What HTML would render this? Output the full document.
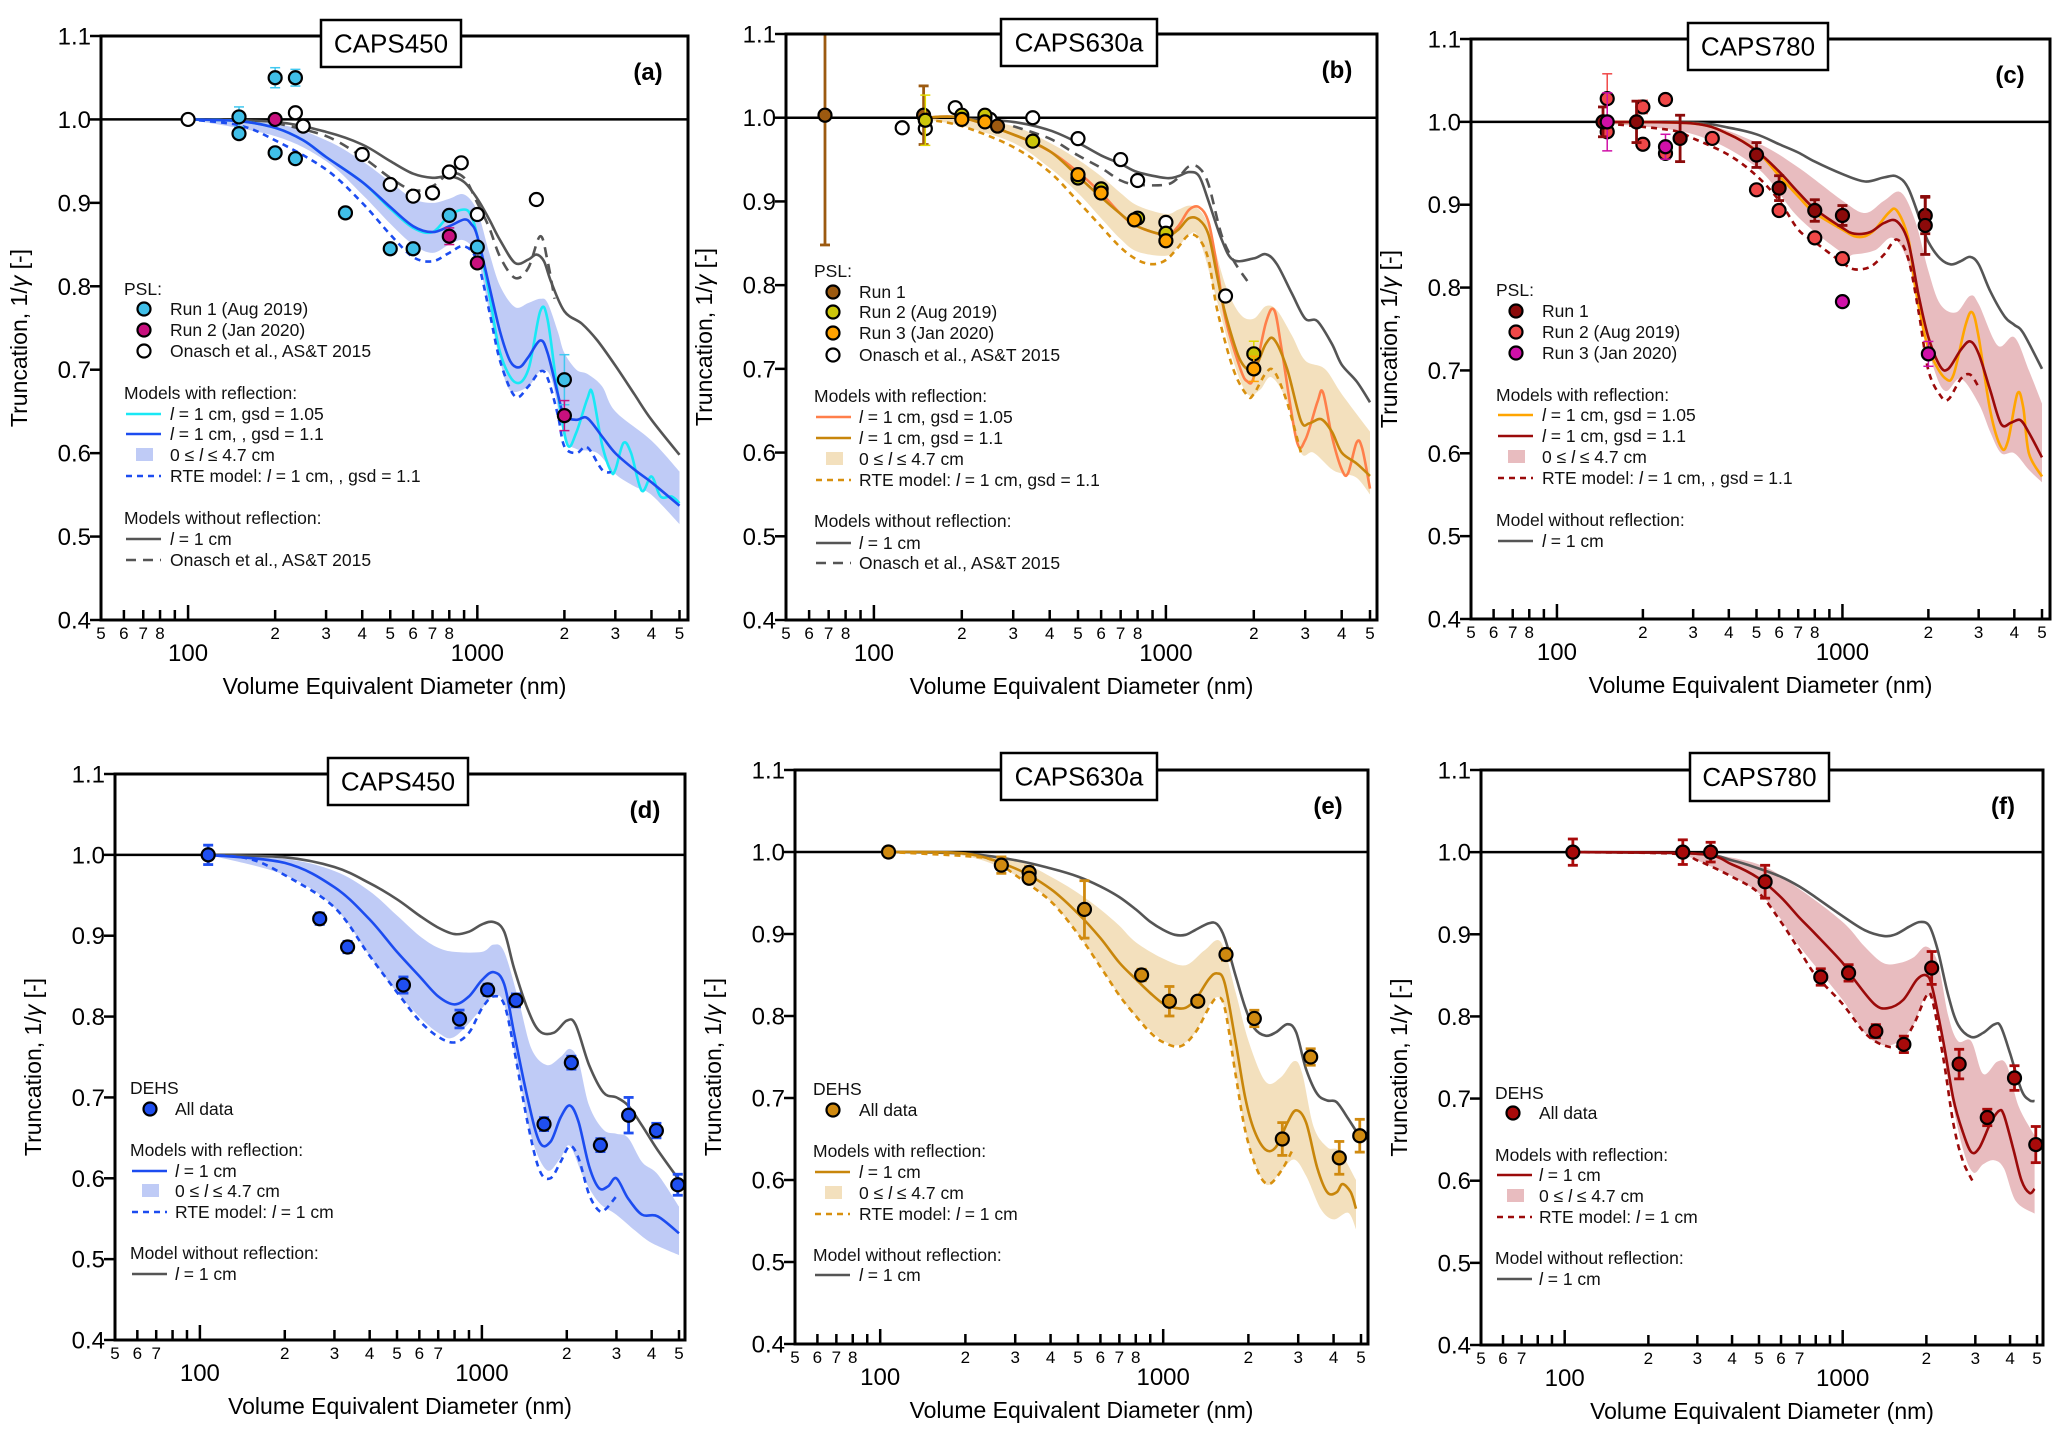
<!DOCTYPE html>
<html><head><meta charset="utf-8"><style>
html,body{margin:0;padding:0;background:#fff;}
svg{display:block;font-family:"Liberation Sans",Arial,sans-serif;}
</style></head><body>
<svg id="fig" width="2067" height="1448" viewBox="0 0 2067 1448" xmlns="http://www.w3.org/2000/svg">
<rect x="0" y="0" width="2067" height="1448" fill="#fff"/>
</svg>
<script>
// ---------- Panel (a) CAPS450 PSL ----------
const a_nr_x=[100,200,300,400,500,600,700,800,900,1000,1100,1200,1350,1500,1600,1700,1800,2000,2300,2600,3000,3500,4000,5000];
const a_nr_y=[1.0,0.997,0.985,0.97,0.95,0.935,0.93,0.932,0.925,0.905,0.88,0.855,0.828,0.832,0.838,0.83,0.805,0.77,0.755,0.735,0.705,0.67,0.64,0.598];
const a_on_x=[200,300,400,500,600,700,800,900,1000,1100,1200,1350,1500,1650,1750,1850];
const a_on_y=[0.996,0.98,0.955,0.93,0.915,0.92,0.935,0.93,0.9,0.87,0.835,0.81,0.822,0.86,0.83,0.785];
const a_g11_x=[100,150,200,250,300,400,500,600,700,800,900,950,1000,1100,1200,1300,1400,1500,1650,1750,1900,2000,2200,2400,2700,3000,3500,4000,5000];
const a_g11_y=[1.0,0.998,0.99,0.975,0.955,0.925,0.895,0.872,0.865,0.872,0.88,0.875,0.86,0.8,0.745,0.71,0.703,0.715,0.735,0.72,0.67,0.645,0.64,0.642,0.62,0.6,0.58,0.565,0.537];
const a_g105_x=[100,150,200,250,300,400,500,600,700,800,900,950,1000,1100,1200,1350,1500,1650,1750,1900,2050,2200,2400,2500,2700,2900,3000,3200,3400,3700,4000,4300,4700,5000];
const a_g105_y=[1.0,0.998,0.99,0.975,0.955,0.925,0.893,0.87,0.865,0.885,0.892,0.885,0.86,0.79,0.72,0.685,0.7,0.77,0.76,0.67,0.61,0.625,0.665,0.672,0.61,0.578,0.58,0.612,0.6,0.555,0.572,0.548,0.548,0.54];
const a_rte_x=[100,150,200,300,400,500,600,700,800,900,1000,1100,1200,1350,1500,1650,1750,1900,2000,2200,2400,2700,2900];
const a_rte_y=[1.0,0.993,0.975,0.94,0.9,0.862,0.835,0.83,0.84,0.848,0.83,0.77,0.71,0.668,0.68,0.698,0.69,0.645,0.608,0.6,0.607,0.58,0.577];
const a_hi_x=[100,200,300,400,500,600,700,800,900,1000,1100,1200,1350,1500,1650,1750,1900,2000,2200,2400,2700,3000,4000,5000];
const a_hi_y=[1.0,0.995,0.975,0.95,0.925,0.905,0.9,0.905,0.91,0.89,0.84,0.8,0.775,0.78,0.785,0.78,0.745,0.72,0.7,0.695,0.68,0.65,0.615,0.578];
const a_lo_x=[100,200,300,400,500,600,700,800,900,1000,1100,1200,1300,1500,1650,1800,2000,2200,2600,3000,3500,4000,5000];
const a_lo_y=[1.0,0.98,0.95,0.91,0.875,0.85,0.84,0.85,0.855,0.835,0.77,0.71,0.675,0.68,0.698,0.69,0.62,0.605,0.6,0.575,0.56,0.55,0.515];
const a_r1_x=[150,150,200,200,235,235,350,500,600,800,1000,2000];
const a_r1_y=[1.003,0.983,1.05,0.96,1.05,0.953,0.888,0.845,0.845,0.885,0.847,0.688];
const a_r1_e=[0.012,0,0.012,0,0.01,0,0,0,0,0,0,0.03];
const a_r2_x=[200,800,1000,2000];
const a_r2_y=[1.0,0.86,0.828,0.645];
const a_r2_e=[0.005,0.01,0.005,0.018];
const a_ons_x=[100,235,250,400,500,600,700,800,880,1000,1600];
const a_ons_y=[1.0,1.008,0.992,0.958,0.922,0.908,0.912,0.937,0.948,0.886,0.904];

// ---------- Panel (b) CAPS630a PSL ----------
const b_nr_x=[200,300,400,500,600,700,800,1000,1100,1200,1300,1400,1550,1700,2000,2200,2400,2700,3000,3300,3700,4000,4500,5000];
const b_nr_y=[0.999,0.995,0.985,0.97,0.955,0.945,0.935,0.928,0.93,0.935,0.93,0.9,0.855,0.83,0.832,0.837,0.825,0.79,0.76,0.757,0.73,0.705,0.685,0.66];
const b_on_x=[300,400,500,600,700,800,1000,1100,1200,1300,1400,1550,1700,1900];
const b_on_y=[0.99,0.975,0.955,0.94,0.925,0.92,0.92,0.928,0.942,0.94,0.92,0.86,0.83,0.805];
const b_g105_x=[150,200,300,400,500,600,700,800,1000,1100,1200,1300,1400,1500,1600,1800,1900,2000,2200,2350,2500,2800,3000,3300,3450,3700,4000,4200,4500,4700,5000];
const b_g105_y=[1.0,1.0,0.98,0.96,0.935,0.91,0.885,0.87,0.86,0.87,0.89,0.893,0.875,0.82,0.76,0.7,0.685,0.69,0.755,0.77,0.72,0.615,0.615,0.66,0.672,0.62,0.58,0.575,0.612,0.605,0.557];
const b_g11_x=[150,200,300,400,500,600,700,800,1000,1100,1200,1300,1400,1500,1600,1800,2000,2200,2350,2600,2900,3100,3400,3700,4000,4500,5000];
const b_g11_y=[1.0,1.0,0.98,0.96,0.93,0.905,0.885,0.87,0.86,0.866,0.88,0.878,0.86,0.81,0.765,0.71,0.7,0.73,0.735,0.7,0.638,0.635,0.64,0.625,0.6,0.587,0.572];
const b_rte_x=[150,200,300,400,500,600,700,800,900,1000,1100,1200,1300,1400,1500,1700,1900,2000,2200,2350,2600,2900];
const b_rte_y=[0.998,0.99,0.965,0.935,0.9,0.87,0.845,0.83,0.825,0.83,0.845,0.86,0.855,0.83,0.77,0.7,0.668,0.67,0.695,0.697,0.66,0.6];
const b_hi_x=[150,200,300,400,500,600,700,800,1000,1100,1200,1300,1400,1600,1800,2000,2200,2400,2700,3000,3500,4000,5000];
const b_hi_y=[1.0,1.0,0.99,0.97,0.95,0.93,0.91,0.895,0.885,0.89,0.895,0.89,0.87,0.8,0.765,0.76,0.775,0.77,0.74,0.71,0.7,0.67,0.625];
const b_lo_x=[150,200,300,400,500,600,700,800,1000,1100,1200,1300,1500,1700,1900,2100,2300,2600,2900,3200,3700,4000,4500,5000];
const b_lo_y=[0.998,0.99,0.97,0.94,0.91,0.88,0.855,0.84,0.835,0.845,0.86,0.855,0.78,0.71,0.67,0.675,0.69,0.66,0.6,0.6,0.58,0.575,0.57,0.55];
const b_r1_x=[68,148,240,265];
const b_r1_y=[1.003,1.003,1.0,0.99];
const b_r1_e=[0.155,0.035,0,0];
const b_r2_x=[150,200,240,350,500,600,800,1000,2000];
const b_r2_y=[0.997,1.003,1.003,0.972,0.928,0.915,0.88,0.862,0.718];
const b_r2_e=[0.03,0,0,0,0,0,0,0,0.015];
const b_r3_x=[200,240,500,600,780,1000,2000];
const b_r3_y=[0.998,0.995,0.932,0.91,0.878,0.853,0.7];
const b_r3_e=[0,0,0,0,0,0,0.015];
const b_ons_x=[125,150,190,250,350,500,700,800,1000,1600];
const b_ons_y=[0.988,0.987,1.012,0.998,1.0,0.975,0.95,0.925,0.875,0.787];

// ---------- Panel (c) CAPS780 PSL ----------
const c_nr_x=[150,300,400,500,600,700,800,1000,1200,1400,1550,1700,1900,2000,2200,2400,2600,2800,3000,3300,3700,4000,4300,5000];
const c_nr_y=[1.0,0.999,0.993,0.985,0.973,0.963,0.952,0.937,0.928,0.933,0.934,0.92,0.875,0.855,0.835,0.828,0.832,0.837,0.828,0.795,0.765,0.755,0.745,0.702];
const c_g105_x=[150,300,400,500,600,700,800,1000,1100,1200,1300,1450,1550,1700,1800,1950,2100,2300,2450,2700,2850,3000,3300,3600,3800,4100,4300,4500,5000];
const c_g105_y=[1.0,0.998,0.985,0.965,0.935,0.91,0.89,0.87,0.862,0.862,0.87,0.89,0.893,0.86,0.8,0.74,0.71,0.69,0.695,0.755,0.77,0.74,0.65,0.607,0.615,0.672,0.655,0.6,0.572];
const c_g11_x=[150,300,400,500,600,700,800,1000,1100,1250,1400,1550,1700,1850,2000,2200,2350,2600,2800,3000,3300,3600,3900,4200,4500,5000];
const c_g11_y=[1.0,0.998,0.985,0.965,0.94,0.915,0.895,0.872,0.865,0.867,0.878,0.88,0.855,0.79,0.74,0.705,0.702,0.725,0.735,0.72,0.675,0.635,0.637,0.64,0.625,0.595];
const c_rte_x=[150,250,300,400,500,600,700,800,1000,1100,1250,1400,1550,1700,1850,2000,2200,2350,2600,2800,3000];
const c_rte_y=[0.998,0.99,0.98,0.96,0.935,0.905,0.87,0.855,0.83,0.822,0.825,0.84,0.858,0.835,0.77,0.7,0.67,0.665,0.69,0.695,0.68];
const c_hi_x=[150,300,500,700,1000,1200,1400,1600,1800,2000,2200,2500,2800,3000,3500,4000,4500,5000];
const c_hi_y=[1.0,1.0,0.975,0.945,0.905,0.89,0.905,0.915,0.88,0.82,0.78,0.77,0.79,0.78,0.73,0.74,0.7,0.66];
const c_lo_x=[150,300,500,700,1000,1100,1300,1500,1700,1900,2100,2300,2600,3000,3300,3600,4000,4500,5000];
const c_lo_y=[0.998,0.985,0.945,0.885,0.842,0.84,0.845,0.86,0.83,0.76,0.7,0.675,0.69,0.66,0.625,0.6,0.6,0.58,0.565];
const c_r1_x=[145,190,270,500,600,800,1000,1950,1950];
const c_r1_y=[1.0,1.0,0.98,0.96,0.92,0.893,0.887,0.887,0.875];
const c_r1_e=[0.018,0.025,0.028,0.015,0.015,0.013,0.012,0.022,0.035];
const c_r2_x=[150,150,200,200,240,240,350,500,600,800,1000];
const c_r2_y=[1.028,0.988,1.018,0.973,1.027,0.962,0.98,0.918,0.893,0.86,0.835];
const c_r2_e=[0.03,0,0.008,0,0.005,0,0,0,0,0,0];
const c_r3_x=[150,240,1000,2000];
const c_r3_y=[1.0,0.97,0.783,0.72];
const c_r3_e=[0.035,0.015,0,0.015];

// ---------- Panel (d) CAPS450 DEHS ----------
const d_nr_x=[107,200,300,400,500,600,700,800,900,1000,1100,1200,1300,1450,1600,1800,2000,2150,2400,2700,3000,3300,3700,4200,5000];
const d_nr_y=[1.0,0.997,0.985,0.965,0.945,0.925,0.91,0.902,0.905,0.914,0.917,0.905,0.86,0.81,0.782,0.78,0.795,0.79,0.74,0.706,0.7,0.69,0.665,0.635,0.598];
const d_g_x=[107,200,300,400,500,600,700,800,900,1000,1100,1200,1300,1450,1600,1750,1900,2050,2200,2400,2600,2800,3000,3300,3700,4200,5000];
const d_g_y=[1.0,0.99,0.96,0.92,0.88,0.85,0.825,0.815,0.825,0.845,0.855,0.84,0.78,0.7,0.645,0.645,0.675,0.69,0.67,0.615,0.588,0.59,0.6,0.575,0.555,0.553,0.532];
const d_rte_x=[107,150,200,300,400,500,600,700,800,900,1000,1100,1200,1300,1450,1600,1750,1900,2050,2200,2400,2600,2750,3000];
const d_rte_y=[1.0,0.995,0.975,0.935,0.875,0.83,0.795,0.775,0.768,0.78,0.81,0.825,0.815,0.76,0.67,0.61,0.6,0.62,0.64,0.625,0.58,0.56,0.562,0.578];
const d_hi_x=[107,200,300,400,500,600,700,800,1000,1100,1200,1350,1500,1700,1900,2050,2200,2400,2700,3000,3300,3700,4200,5000];
const d_hi_y=[1.0,0.995,0.98,0.955,0.925,0.9,0.885,0.88,0.88,0.889,0.88,0.82,0.76,0.74,0.75,0.76,0.745,0.69,0.66,0.655,0.65,0.62,0.605,0.565];
const d_lo_x=[107,200,300,400,500,600,700,800,1000,1100,1200,1350,1500,1700,1900,2050,2300,2600,3000,3500,4000,5000];
const d_lo_y=[1.0,0.975,0.935,0.875,0.83,0.8,0.78,0.775,0.81,0.825,0.815,0.73,0.65,0.61,0.625,0.64,0.6,0.57,0.555,0.535,0.52,0.505];
const d_pt_x=[107,266,334,527,833,1048,1321,1661,2076,2632,3314,4157,4950];
const d_pt_y=[1.0,0.921,0.886,0.839,0.797,0.833,0.82,0.667,0.743,0.641,0.678,0.659,0.592];
const d_pt_e=[0.012,0.007,0.007,0.01,0.011,0.007,0.008,0.008,0.008,0.008,0.022,0.009,0.013];

// ---------- Panel (e) CAPS630a DEHS ----------
const e_nr_x=[107,200,300,400,500,600,700,800,900,1000,1100,1200,1300,1450,1550,1650,1800,1950,2100,2300,2500,2750,2950,3200,3500,3800,4100,4500,4900];
const e_nr_y=[1.0,0.998,0.99,0.98,0.97,0.958,0.945,0.93,0.915,0.905,0.899,0.899,0.905,0.913,0.912,0.895,0.85,0.81,0.785,0.776,0.78,0.79,0.78,0.735,0.705,0.697,0.695,0.675,0.655];
const e_g_x=[107,200,300,400,500,600,700,800,900,1000,1100,1200,1300,1450,1550,1650,1800,1950,2100,2300,2500,2750,2950,3200,3500,3800,4100,4300,4600,4800];
const e_g_y=[1.0,0.998,0.98,0.955,0.925,0.895,0.865,0.845,0.828,0.815,0.81,0.81,0.82,0.845,0.852,0.84,0.77,0.7,0.66,0.637,0.64,0.67,0.685,0.67,0.615,0.585,0.585,0.595,0.585,0.565];
const e_rte_x=[107,200,250,300,400,500,600,700,800,900,1000,1150,1300,1450,1550,1650,1800,1950,2150,2350,2600,2850];
const e_rte_y=[1.0,0.995,0.99,0.972,0.94,0.9,0.86,0.825,0.8,0.78,0.768,0.763,0.78,0.81,0.822,0.81,0.73,0.66,0.612,0.595,0.61,0.635];
const e_hi_x=[107,200,300,400,500,600,700,800,1000,1200,1400,1600,1800,2000,2300,2600,2900,3100,3400,3800,4200,4800];
const e_hi_y=[1.0,0.998,0.99,0.97,0.95,0.93,0.91,0.89,0.87,0.862,0.88,0.89,0.83,0.77,0.72,0.725,0.745,0.73,0.665,0.64,0.635,0.6];
const e_lo_x=[107,200,300,400,500,600,700,800,1000,1150,1300,1500,1650,1800,2000,2300,2600,2900,3200,3600,4000,4500,4800];
const e_lo_y=[1.0,0.995,0.972,0.94,0.9,0.86,0.825,0.8,0.77,0.765,0.78,0.82,0.81,0.73,0.645,0.595,0.61,0.625,0.605,0.565,0.552,0.56,0.54];
const e_pt_x=[107,268,336,336,527,839,1052,1325,1667,2099,2636,3320,4190,4950];
const e_pt_y=[1.0,0.984,0.975,0.968,0.93,0.85,0.818,0.818,0.875,0.797,0.65,0.75,0.627,0.654];
const e_pt_e=[0.006,0.01,0.007,0,0.035,0.007,0.018,0.005,0.007,0.01,0.02,0.01,0.02,0.02];

// ---------- Panel (f) CAPS780 DEHS ----------
const f_nr_x=[107,300,400,500,600,700,800,1000,1200,1400,1550,1750,1900,2050,2200,2400,2600,2900,3200,3500,3700,4000,4400,4700,4900];
const f_nr_y=[1.0,0.998,0.99,0.98,0.97,0.958,0.945,0.922,0.905,0.898,0.9,0.91,0.915,0.91,0.88,0.825,0.79,0.775,0.78,0.79,0.788,0.755,0.71,0.698,0.697];
const f_g_x=[107,300,400,500,600,700,800,1000,1100,1300,1450,1650,1850,2000,2100,2300,2500,2700,2900,3100,3400,3650,3800,4100,4400,4700,4900];
const f_g_y=[1.0,0.998,0.985,0.968,0.945,0.92,0.9,0.865,0.845,0.815,0.81,0.82,0.845,0.85,0.835,0.77,0.7,0.66,0.635,0.64,0.67,0.685,0.68,0.64,0.6,0.585,0.59];
const f_rte_x=[107,250,300,400,500,600,700,800,1000,1200,1400,1600,1800,2000,2100,2300,2500,2700,2950];
const f_rte_y=[1.0,0.998,0.99,0.97,0.95,0.915,0.88,0.85,0.815,0.78,0.765,0.765,0.79,0.825,0.82,0.75,0.67,0.625,0.598];
const f_hi_x=[250,300,500,700,1000,1200,1400,1600,1800,2000,2200,2400,2600,2900,3200,3600,3900,4300,4900];
const f_hi_y=[1.0,1.0,0.985,0.955,0.915,0.885,0.865,0.865,0.872,0.885,0.865,0.8,0.77,0.77,0.73,0.745,0.74,0.69,0.655];
const f_lo_x=[250,300,500,700,1000,1200,1400,1600,1800,2000,2200,2400,2700,2950,3200,3500,3800,4200,4900];
const f_lo_y=[0.998,0.99,0.95,0.885,0.82,0.78,0.765,0.77,0.79,0.825,0.8,0.72,0.64,0.61,0.62,0.625,0.615,0.575,0.56];
const f_pt_x=[107,266,335,526,834,1050,1316,1660,2090,2624,3312,4150,4950];
const f_pt_y=[1.0,1.0,1.0,0.964,0.848,0.853,0.782,0.766,0.859,0.742,0.677,0.725,0.644];
const f_pt_e=[0.016,0.015,0.012,0.02,0.01,0.01,0.008,0.01,0.02,0.018,0.01,0.015,0.022];

const yTicks=[0.4,0.5,0.6,0.7,0.8,0.9,1.0,1.1];
const yTickLabels=["0.4","0.5","0.6","0.7","0.8","0.9","1.0","1.1"];

const NS="http://www.w3.org/2000/svg";
const svg=document.getElementById('fig');
function mk(tag,attrs,parent){const e=document.createElementNS(NS,tag);for(const k in attrs)e.setAttribute(k,attrs[k]);(parent||svg).appendChild(e);return e;}

function makeAxes(g){
  const dec=(g.x5k-g.L)/2;
  g.sx=x=>g.L+(Math.log10(x)-Math.log10(50))*dec;
  g.sy=y=>g.B-(y-0.4)/0.7*(g.B-g.T);
  g.dec=dec;
}
function smoothPath(pts){
  let d='M'+pts[0][0].toFixed(1)+','+pts[0][1].toFixed(1);
  for(let i=0;i<pts.length-1;i++){
    const p0=pts[i-1]||pts[i],p1=pts[i],p2=pts[i+1],p3=pts[i+2]||p2;
    const c1=[p1[0]+(p2[0]-p0[0])/6,p1[1]+(p2[1]-p0[1])/6];
    const c2=[p2[0]-(p3[0]-p1[0])/6,p2[1]-(p3[1]-p1[1])/6];
    d+=' C'+c1[0].toFixed(1)+','+c1[1].toFixed(1)+' '+c2[0].toFixed(1)+','+c2[1].toFixed(1)+' '+p2[0].toFixed(1)+','+p2[1].toFixed(1);
  }
  return d;
}
function linePts(g,xs,ys){return xs.map((x,i)=>[g.sx(x),g.sy(ys[i])]);}

function rich(el,txt){
  const parts=txt.split('{l}');
  parts.forEach((p,i)=>{
    if(p){const t=mk('tspan',{},el);t.textContent=p;}
    if(i<parts.length-1){const t=mk('tspan',{'font-style':'italic'},el);t.textContent='l';}
  });
}

function drawPanel(key,g,cfg){
  makeAxes(g);
  const grp=mk('g',{});
  
  
  const clipId='clip-'+key;
  const cp=mk('clipPath',{id:clipId},grp);
  mk('rect',{x:g.L,y:g.T,width:g.R-g.L,height:g.B-g.T},cp);
  const plot=mk('g',{'clip-path':'url(#'+clipId+')'},grp);
  const hi=linePts(g,cfg.band.hx,cfg.band.hy);
  const lo=linePts(g,cfg.band.lx,cfg.band.ly).reverse();
  const bd=smoothPath(hi)+' L'+smoothPath(lo).slice(1)+' Z';
  const band=mk('path',{d:bd,fill:cfg.band.color,stroke:'none'},plot);
  
  
  const ul=mk('line',{x1:g.L,x2:g.R,y1:g.sy(1.0),y2:g.sy(1.0),stroke:'#000','stroke-width':2.5},plot);
  
  
  cfg.lines.forEach(s=>{
    const p=mk('path',{d:smoothPath(linePts(g,s.x,s.y)),fill:'none',stroke:s.color,'stroke-width':s.w||2.6,'stroke-dasharray':s.dash||'none','stroke-linejoin':'round'},plot);
    
    
  });
  cfg.pts.forEach(s=>{
    const sg=mk('g',{},grp);
    
    
    s.x.forEach((x,i)=>{
      const cx=g.sx(x),cy=g.sy(s.y[i]);
      const e=s.e?s.e[i]:0;
      if(e>0){
        const y1=g.sy(Math.min(1.1,s.y[i]+e)),y2=g.sy(s.y[i]-e);
        const ec=s.ecolor||s.fill;
        const ew=s.ew||2.2;
        mk('line',{x1:cx,x2:cx,y1:y1,y2:y2,stroke:ec,'stroke-width':ew},sg);
        mk('line',{x1:cx-5,x2:cx+5,y1:y1,y2:y1,stroke:ec,'stroke-width':ew},sg);
        mk('line',{x1:cx-5,x2:cx+5,y1:y2,y2:y2,stroke:ec,'stroke-width':ew},sg);
      }
      const c=mk('circle',{cx:cx,cy:cy,r:s.r||6.5,fill:s.open?'#fff':s.fill,stroke:'#000','stroke-width':2.2},sg);
      
      
    });
  });
  const fr=mk('rect',{x:g.L,y:g.T,width:g.R-g.L,height:g.B-g.T,fill:'none',stroke:'#000','stroke-width':3},grp);
  
  
  const yax=mk('g',{},grp);
  
  
  yTicks.forEach((v,i)=>{
    const y=g.sy(v);
    mk('line',{x1:g.L-11,x2:g.L,y1:y,y2:y,stroke:'#000','stroke-width':2.5},yax);
    const t=mk('text',{x:g.L-10,y:y+8.5,'font-size':24,'text-anchor':'end',fill:'#000'},yax);
    t.textContent=yTickLabels[i];
  });
  const xax=mk('g',{},grp);
  
  
  const decs=[10,100,1000];
  decs.forEach((base,di)=>{
    for(let m=1;m<=9;m++){
      const v=base*m;
      if(v<50||v>5000)continue;
      const x=g.sx(v);
      const major=(m===1);
      mk('line',{x1:x,x2:x,y1:g.B,y2:g.B-(major?15:10),stroke:'#000','stroke-width':2.5},xax);
      if(!major && cfg.minorLabels[di].includes(m)){
        const t=mk('text',{x:x,y:g.B+19,'font-size':17,'text-anchor':'middle',fill:'#000'},xax);
        t.textContent=String(m);
      }
    }
  });
  ['100','1000'].forEach((lab,i)=>{
    const t=mk('text',{x:g.sx(i?1000:100),y:g.B+41,'font-size':24,'text-anchor':'middle',fill:'#000'},xax);
    t.textContent=lab;
  });
  const xt=mk('text',{x:(g.L+g.R)/2,y:g.B+74,'font-size':23,'text-anchor':'middle',fill:'#000'},grp);
  xt.textContent='Volume Equivalent Diameter (nm)';
  
  
  const ycx=g.L-74,ycy=(g.T+g.B)/2+10;
  const yt=mk('text',{x:ycx,y:ycy,'font-size':23,'text-anchor':'middle',fill:'#000',transform:'rotate(-90 '+ycx+' '+ycy+')'},grp);
  
  
  const t1=mk('tspan',{},yt);t1.textContent='Truncation, 1/';
  const t2=mk('tspan',{'font-style':'italic'},yt);t2.textContent='γ';
  const t3=mk('tspan',{},yt);t3.textContent=' [-]';
  const tb=cfg.tbox;
  const tg=mk('g',{},grp);
  
  
  mk('rect',{x:tb[0],y:tb[1],width:tb[2]-tb[0],height:tb[3]-tb[1],fill:'#fff',stroke:'#000','stroke-width':2.5},tg);
  const tt=mk('text',{x:(tb[0]+tb[2])/2,y:(tb[1]+tb[3])/2+9,'font-size':26,'text-anchor':'middle',fill:'#000'},tg);
  tt.textContent=cfg.title;
  const pl=mk('text',{x:g.R-40,y:g.T+44,'font-size':24,'font-weight':'bold','text-anchor':'middle',fill:'#000'},grp);
  pl.textContent=cfg.label;
  
  
  const lg=mk('g',{},grp);
  
  
  const L=cfg.legend;
  L.items.forEach(it=>{
    const y=it[2];
    const ent=mk('g',{},lg);
    
    
    const type=it[0];
    if(type==='h'){
      const t=mk('text',{x:L.hx,y:y+6,'font-size':17.5,fill:'#111'},ent);rich(t,it[1]);return;
    }
    if(type==='m'){
      mk('circle',{cx:L.mx,cy:y,r:6.5,fill:it[3],stroke:'#000','stroke-width':2.2},ent);
    } else if(type==='o'){
      mk('circle',{cx:L.mx,cy:y,r:6.5,fill:'#fff',stroke:'#000','stroke-width':2.2},ent);
    } else if(type==='l'){
      mk('line',{x1:L.hx+2,x2:L.hx+37,y1:y,y2:y,stroke:it[3],'stroke-width':2.6,'stroke-dasharray':it[4]||'none'},ent);
    } else if(type==='b'){
      mk('rect',{x:L.hx+12,y:y-7,width:17,height:13,fill:it[3]},ent);
    }
    const t=mk('text',{x:L.tx,y:y+6,'font-size':17.5,fill:'#111'},ent);rich(t,it[1]);
  });
}

const gray='#555';
const minorABC=[[5,6,7,8],[2,3,4,5,6,7,8],[2,3,4,5]];

drawPanel('a',{L:101,R:688,T:36,B:620,x5k:679.5},{
  title:'CAPS450',label:'(a)',tbox:[321,20,461,67],minorLabels:minorABC,
  band:{hx:a_hi_x,hy:a_hi_y,lx:a_lo_x,ly:a_lo_y,color:'#bfcbf6'},
  lines:[
    {name:'no-reflection-line',x:a_nr_x,y:a_nr_y,color:gray},
    {name:'onasch-model-line',x:a_on_x,y:a_on_y,color:gray,dash:'10 7'},
    {name:'gsd-1.05-line',x:a_g105_x,y:a_g105_y,color:'#19e8f5'},
    {name:'gsd-1.1-line',x:a_g11_x,y:a_g11_y,color:'#1c4cf0'},
    {name:'rte-model-line',x:a_rte_x,y:a_rte_y,color:'#1c4cf0',dash:'6 5'}],
  pts:[
    {name:'onasch-data',x:a_ons_x,y:a_ons_y,open:true},
    {name:'run1-data',x:a_r1_x,y:a_r1_y,e:a_r1_e,fill:'#40bfe8',ecolor:'#40c8f0',ew:1.5},
    {name:'run2-data',x:a_r2_x,y:a_r2_y,e:a_r2_e,fill:'#c8107e',ew:1.5}],
  legend:{hx:124,mx:144,tx:170,items:[
    ['h','PSL:',289],['m','Run 1 (Aug 2019)',309,'#40bfe8'],['m','Run 2 (Jan 2020)',330,'#c8107e'],['o','Onasch et al., AS&T 2015',351],
    ['h','Models with reflection:',393],['l','{l} = 1 cm, gsd = 1.05',414,'#19e8f5'],['l','{l} = 1 cm, , gsd = 1.1',434,'#1c4cf0'],['b','0 ≤ {l} ≤ 4.7 cm',455,'#bfcbf6'],['l','RTE model: {l} = 1 cm, , gsd = 1.1',476,'#1c4cf0','6 5'],
    ['h','Models without reflection:',518],['l','{l} = 1 cm',539,gray],['l','Onasch et al., AS&T 2015',560,gray,'10 7']]}
});

drawPanel('b',{L:786,R:1377,T:34,B:620,x5k:1370},{
  title:'CAPS630a',label:'(b)',tbox:[1001,19,1157,66],minorLabels:minorABC,
  band:{hx:b_hi_x,hy:b_hi_y,lx:b_lo_x,ly:b_lo_y,color:'#f3e0bd'},
  lines:[
    {name:'no-reflection-line',x:b_nr_x,y:b_nr_y,color:gray},
    {name:'onasch-model-line',x:b_on_x,y:b_on_y,color:gray,dash:'10 7'},
    {name:'gsd-1.05-line',x:b_g105_x,y:b_g105_y,color:'#ff7f4a'},
    {name:'gsd-1.1-line',x:b_g11_x,y:b_g11_y,color:'#c8860b'},
    {name:'rte-model-line',x:b_rte_x,y:b_rte_y,color:'#d8900e',dash:'6 5'}],
  pts:[
    {name:'onasch-data',x:b_ons_x,y:b_ons_y,open:true},
    {name:'run1-data',x:b_r1_x,y:b_r1_y,e:b_r1_e,fill:'#9c5a10',ew:2.8},
    {name:'run2-data',x:b_r2_x,y:b_r2_y,e:b_r2_e,fill:'#ccc60a',ecolor:'#e0d800',ew:1.5},
    {name:'run3-data',x:b_r3_x,y:b_r3_y,e:b_r3_e,fill:'#ffa200',ew:1.5}],
  legend:{hx:814,mx:833,tx:859,items:[
    ['h','PSL:',271],['m','Run 1',292,'#9c5a10'],['m','Run 2 (Aug 2019)',312,'#ccc60a'],['m','Run 3 (Jan 2020)',333,'#ffa200'],['o','Onasch et al., AS&T 2015',355],
    ['h','Models with reflection:',396],['l','{l} = 1 cm, gsd = 1.05',417,'#ff7f4a'],['l','{l} = 1 cm, gsd = 1.1',438,'#c8860b'],['b','0 ≤ {l} ≤ 4.7 cm',459,'#f3e0bd'],['l','RTE model: {l} = 1 cm, gsd = 1.1',480,'#d8900e','6 5'],
    ['h','Models without reflection:',521],['l','{l} = 1 cm',543,gray],['l','Onasch et al., AS&T 2015',563,gray,'10 7']]}
});

drawPanel('c',{L:1471,R:2050,T:39,B:619,x5k:2042},{
  title:'CAPS780',label:'(c)',tbox:[1688,23,1828,70],minorLabels:minorABC,
  band:{hx:c_hi_x,hy:c_hi_y,lx:c_lo_x,ly:c_lo_y,color:'#e8bcbf'},
  lines:[
    {name:'no-reflection-line',x:c_nr_x,y:c_nr_y,color:gray},
    {name:'gsd-1.05-line',x:c_g105_x,y:c_g105_y,color:'#ffa500'},
    {name:'gsd-1.1-line',x:c_g11_x,y:c_g11_y,color:'#9b0a0a'},
    {name:'rte-model-line',x:c_rte_x,y:c_rte_y,color:'#9b0a0a',dash:'6 5'}],
  pts:[
    {name:'run2-data',x:c_r2_x,y:c_r2_y,e:c_r2_e,fill:'#f04848',ew:1.5},
    {name:'run1-data',x:c_r1_x,y:c_r1_y,e:c_r1_e,fill:'#8b0a0a',ew:2.8},
    {name:'run3-data',x:c_r3_x,y:c_r3_y,e:c_r3_e,fill:'#d010a8',ew:1.5}],
  legend:{hx:1496,mx:1516,tx:1542,items:[
    ['h','PSL:',290],['m','Run 1',311,'#8b0a0a'],['m','Run 2 (Aug 2019)',332,'#f04848'],['m','Run 3 (Jan 2020)',353,'#d010a8'],
    ['h','Models with reflection:',395],['l','{l} = 1 cm, gsd = 1.05',415,'#ffa500'],['l','{l} = 1 cm, gsd = 1.1',436,'#9b0a0a'],['b','0 ≤ {l} ≤ 4.7 cm',457,'#e8bcbf'],['l','RTE model: {l} = 1 cm, , gsd = 1.1',478,'#9b0a0a','6 5'],
    ['h','Model without reflection:',520],['l','{l} = 1 cm',541,gray]]}
});

drawPanel('d',{L:115,R:685,T:774,B:1340,x5k:679},{
  title:'CAPS450',label:'(d)',tbox:[328,758,468,805],minorLabels:[[5,6,7],[2,3,4,5,6,7],[2,3,4,5]],
  band:{hx:d_hi_x,hy:d_hi_y,lx:d_lo_x,ly:d_lo_y,color:'#bfcbf6'},
  lines:[
    {name:'no-reflection-line',x:d_nr_x,y:d_nr_y,color:gray},
    {name:'model-line',x:d_g_x,y:d_g_y,color:'#1c4cf0'},
    {name:'rte-model-line',x:d_rte_x,y:d_rte_y,color:'#1c4cf0',dash:'6 5'}],
  pts:[{name:'dehs-data',x:d_pt_x,y:d_pt_y,e:d_pt_e,fill:'#1f4ff0',ew:2.8}],
  legend:{hx:130,mx:150,tx:175,items:[
    ['h','DEHS',1088],['m','All data',1109,'#1f4ff0'],
    ['h','Models with reflection:',1150],['l','{l} = 1 cm',1171,'#1c4cf0'],['b','0 ≤ {l} ≤ 4.7 cm',1191,'#bfcbf6'],['l','RTE model: {l} = 1 cm',1212,'#1c4cf0','6 5'],
    ['h','Model without reflection:',1253],['l','{l} = 1 cm',1274,gray]]}
});

drawPanel('e',{L:795,R:1368,T:770,B:1344,x5k:1361},{
  title:'CAPS630a',label:'(e)',tbox:[1001,753,1157,800],minorLabels:[[5,6,7,8],[2,3,4,5,6,7,8],[2,3,4,5]],
  band:{hx:e_hi_x,hy:e_hi_y,lx:e_lo_x,ly:e_lo_y,color:'#f3e0bd'},
  lines:[
    {name:'no-reflection-line',x:e_nr_x,y:e_nr_y,color:gray},
    {name:'model-line',x:e_g_x,y:e_g_y,color:'#c8860b'},
    {name:'rte-model-line',x:e_rte_x,y:e_rte_y,color:'#d8900e',dash:'6 5'}],
  pts:[{name:'dehs-data',x:e_pt_x,y:e_pt_y,e:e_pt_e,fill:'#d08a10',ew:2.8}],
  legend:{hx:813,mx:833,tx:859,items:[
    ['h','DEHS',1089],['m','All data',1110,'#d08a10'],
    ['h','Models with reflection:',1151],['l','{l} = 1 cm',1172,'#c8860b'],['b','0 ≤ {l} ≤ 4.7 cm',1193,'#f3e0bd'],['l','RTE model: {l} = 1 cm',1214,'#d8900e','6 5'],
    ['h','Model without reflection:',1255],['l','{l} = 1 cm',1275,gray]]}
});

drawPanel('f',{L:1481,R:2043,T:770,B:1345,x5k:2037},{
  title:'CAPS780',label:'(f)',tbox:[1690,753,1829,801],minorLabels:[[5,6,7],[2,3,4,5,6,7],[2,3,4,5]],
  band:{hx:f_hi_x,hy:f_hi_y,lx:f_lo_x,ly:f_lo_y,color:'#e8bcbf'},
  lines:[
    {name:'no-reflection-line',x:f_nr_x,y:f_nr_y,color:gray},
    {name:'model-line',x:f_g_x,y:f_g_y,color:'#9b0a0a'},
    {name:'rte-model-line',x:f_rte_x,y:f_rte_y,color:'#9b0a0a',dash:'6 5'}],
  pts:[{name:'dehs-data',x:f_pt_x,y:f_pt_y,e:f_pt_e,fill:'#a80a0a',ew:2.8}],
  legend:{hx:1495,mx:1513,tx:1539,items:[
    ['h','DEHS',1093],['m','All data',1113,'#a80a0a'],
    ['h','Models with reflection:',1155],['l','{l} = 1 cm',1175,'#9b0a0a'],['b','0 ≤ {l} ≤ 4.7 cm',1196,'#e8bcbf'],['l','RTE model: {l} = 1 cm',1217,'#9b0a0a','6 5'],
    ['h','Model without reflection:',1258],['l','{l} = 1 cm',1279,gray]]}
});
</script>
</body></html>
